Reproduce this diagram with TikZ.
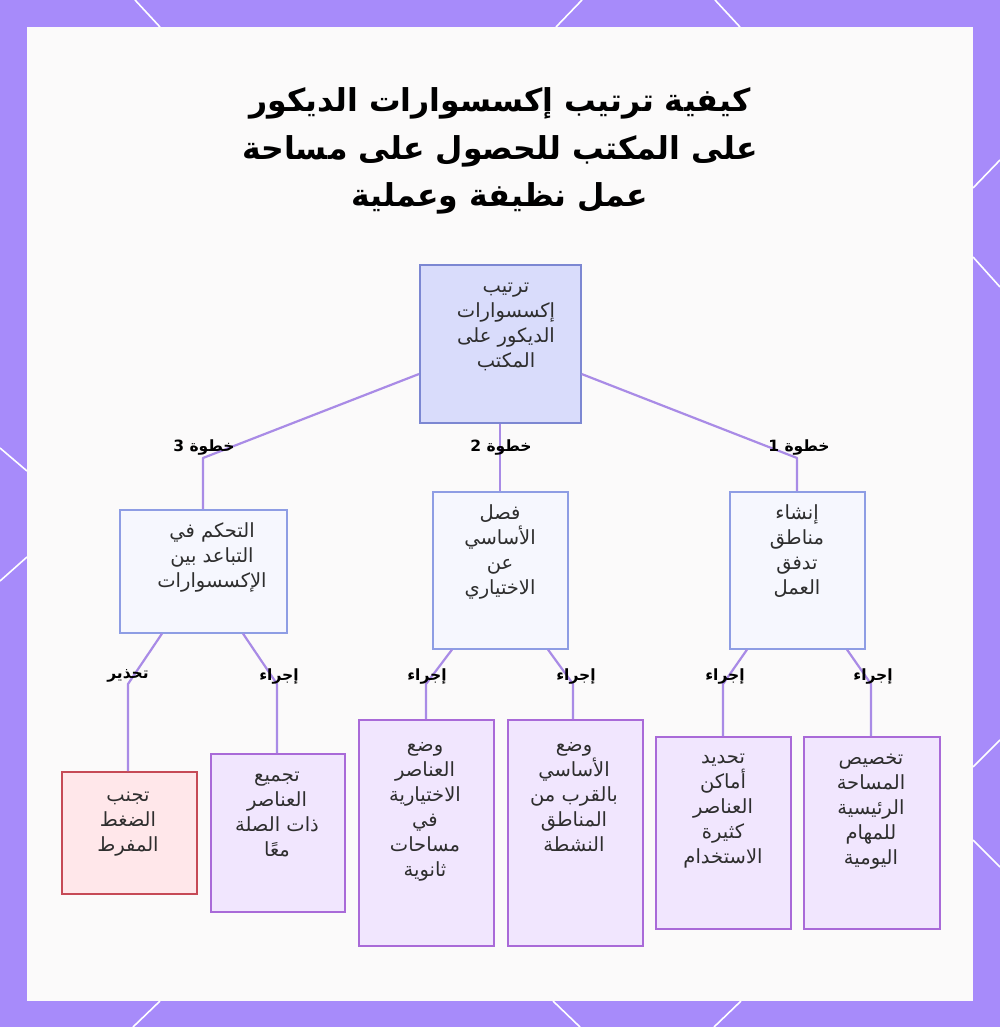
\documentclass[tikz,border=0pt]{standalone}
\usepackage{fontspec}
\TeXXeTstate=1
\newfontfamily\arabicfont[Script=Arabic]{DejaVu Sans}
\newcommand{\ar}[1]{\beginR #1\endR}
\definecolor{framec}{HTML}{A78BFA}
\definecolor{bgc}{HTML}{FBFAFA}
\definecolor{edgec}{HTML}{A98BE6}
\definecolor{rootfill}{HTML}{D9DCFB}
\definecolor{rootdraw}{HTML}{7C87D2}
\definecolor{midfill}{HTML}{F6F7FE}
\definecolor{middraw}{HTML}{8E9DE4}
\definecolor{leaffill}{HTML}{F1E6FE}
\definecolor{leafdraw}{HTML}{A96AD8}
\definecolor{warnfill}{HTML}{FFE7EA}
\definecolor{warndraw}{HTML}{C64A56}
\definecolor{txtc}{HTML}{2E2E2E}
\begin{document}
\begin{tikzpicture}[x=1pt,y=-1pt,
  boxbase/.style={rectangle, inner sep=0pt, anchor=north west, line width=1.6pt},
  rootbox/.style={boxbase, fill=rootfill, draw=rootdraw},
  midbox/.style={boxbase, fill=midfill, draw=middraw},
  leafbox/.style={boxbase, fill=leaffill, draw=leafdraw},
  warnbox/.style={boxbase, fill=warnfill, draw=warndraw},
  boxtxt/.style={anchor=north, align=center, inner sep=0pt, text=txtc, font=\arabicfont\fontsize{19.5}{25}\selectfont},
  elabel/.style={anchor=center, inner sep=0pt, text=black, font=\arabicfont\bfseries\fontsize{15.5}{17}\selectfont},
  conn/.style={draw=edgec, line width=2.2pt, line join=round},
  decor/.style={draw=white, line width=1.6pt}
]
\useasboundingbox (0,0) rectangle (1000,1027);
\fill[framec] (0,0) rectangle (1000,1027);
\fill[bgc] (27,27) rectangle (973,1001);
% decorative frame lines
\draw[decor] (135,0) -- (160,27);
\draw[decor] (582,0) -- (556,27);
\draw[decor] (715,0) -- (740,27);
\draw[decor] (160,1001) -- (133,1027);
\draw[decor] (553,1001) -- (580,1027);
\draw[decor] (741,1001) -- (714,1027);
\draw[decor] (0,448) -- (27,471);
\draw[decor] (0,581) -- (27,557);
\draw[decor] (973,188) -- (1000,160);
\draw[decor] (973,257) -- (1000,287);
\draw[decor] (973,767) -- (1000,740);
\draw[decor] (973,840) -- (1000,867);

% title
\node[anchor=center, align=center, inner sep=0pt, text=black,
  font=\arabicfont\bfseries\fontsize{31.5}{47.5}\selectfont] (title) at (500,151)
  {\ar{كيفية ترتيب إكسسوارات الديكور}\\\ar{على المكتب للحصول على مساحة}\\\ar{عمل نظيفة وعملية}};

% boxes
\node[rootbox, minimum width=161pt, minimum height=158pt] (root) at (419,264) {};
\node[midbox, minimum width=167pt, minimum height=123pt] (s3) at (119,509) {};
\node[midbox, minimum width=135pt, minimum height=157pt] (s2) at (432,491) {};
\node[midbox, minimum width=135pt, minimum height=157pt] (s1) at (729,491) {};
\node[warnbox, minimum width=135pt, minimum height=122pt] (w3) at (61,771) {};
\node[leafbox, minimum width=134pt, minimum height=158pt] (a3) at (210,753) {};
\node[leafbox, minimum width=135pt, minimum height=226pt] (a2l) at (358,719) {};
\node[leafbox, minimum width=135pt, minimum height=226pt] (a2r) at (507,719) {};
\node[leafbox, minimum width=135pt, minimum height=192pt] (a1l) at (655,736) {};
\node[leafbox, minimum width=136pt, minimum height=192pt] (a1r) at (803,736) {};

% box texts
\node[boxtxt] (roott) at (506,283) {\ar{ترتيب}\\\ar{إكسسوارات}\\\ar{الديكور على}\\\ar{المكتب}};
\node[boxtxt] (s3t) at (212,522) {\ar{التحكم في}\\\ar{التباعد بين}\\\ar{الإكسسوارات}};
\node[boxtxt] (s2t) at (500,504) {\ar{فصل}\\\ar{الأساسي}\\\ar{عن}\\\ar{الاختياري}};
\node[boxtxt] (s1t) at (797,504) {\ar{إنشاء}\\\ar{مناطق}\\\ar{تدفق}\\\ar{العمل}};
\node[boxtxt] (w3t) at (128,792) {\ar{تجنب}\\\ar{الضغط}\\\ar{المفرط}};
\node[boxtxt] (a3t) at (277,772) {\ar{تجميع}\\\ar{العناصر}\\\ar{ذات الصلة}\\\ar{معًا}};
\node[boxtxt] (a2lt) at (425,742) {\ar{وضع}\\\ar{العناصر}\\\ar{الاختيارية}\\\ar{في}\\\ar{مساحات}\\\ar{ثانوية}};
\node[boxtxt] (a2rt) at (574,742) {\ar{وضع}\\\ar{الأساسي}\\\ar{بالقرب من}\\\ar{المناطق}\\\ar{النشطة}};
\node[boxtxt] (a1lt) at (723,754) {\ar{تحديد}\\\ar{أماكن}\\\ar{العناصر}\\\ar{كثيرة}\\\ar{الاستخدام}};
\node[boxtxt] (a1rt) at (871,754) {\ar{تخصيص}\\\ar{المساحة}\\\ar{الرئيسية}\\\ar{للمهام}\\\ar{اليومية}};

% bend coordinates
\coordinate (b3) at (203,458);
\coordinate (b1) at (797,458);
\coordinate (bw3) at (128,684);
\coordinate (ba3) at (277,684);
\coordinate (ba2l) at (426,684);
\coordinate (ba2r) at (573,684);
\coordinate (ba1l) at (723,684);
\coordinate (ba1r) at (871,684);

% connectors
\draw[conn] (root.west |- 0,374) -- (b3) -- (s3.north -| b3);
\draw[conn] (root.south) -- (s2.north);
\draw[conn] (root.east |- 0,374) -- (b1) -- (s1.north -| b1);
\draw[conn] (s3.south -| 162,0) -- (bw3) -- (w3.north -| bw3);
\draw[conn] (s3.south -| 243,0) -- (ba3) -- (a3.north -| ba3);
\draw[conn] (s2.south -| 452,0) -- (ba2l) -- (a2l.north -| ba2l);
\draw[conn] (s2.south -| 548,0) -- (ba2r) -- (a2r.north -| ba2r);
\draw[conn] (s1.south -| 747,0) -- (ba1l) -- (a1l.north -| ba1l);
\draw[conn] (s1.south -| 847,0) -- (ba1r) -- (a1r.north -| ba1r);

% connector labels
\node[elabel] (l3) at (204,447) {\ar{خطوة 3}};
\node[elabel] (l2) at (501,447) {\ar{خطوة 2}};
\node[elabel] (l1) at (799,447) {\ar{خطوة 1}};
\node[elabel] (lw3) at (128,676) {\ar{تحذير}};
\node[elabel] (la3) at (279,676) {\ar{إجراء}};
\node[elabel] (la2l) at (427,676) {\ar{إجراء}};
\node[elabel] (la2r) at (576,676) {\ar{إجراء}};
\node[elabel] (la1l) at (725,676) {\ar{إجراء}};
\node[elabel] (la1r) at (873,676) {\ar{إجراء}};
\end{tikzpicture}
\end{document}
